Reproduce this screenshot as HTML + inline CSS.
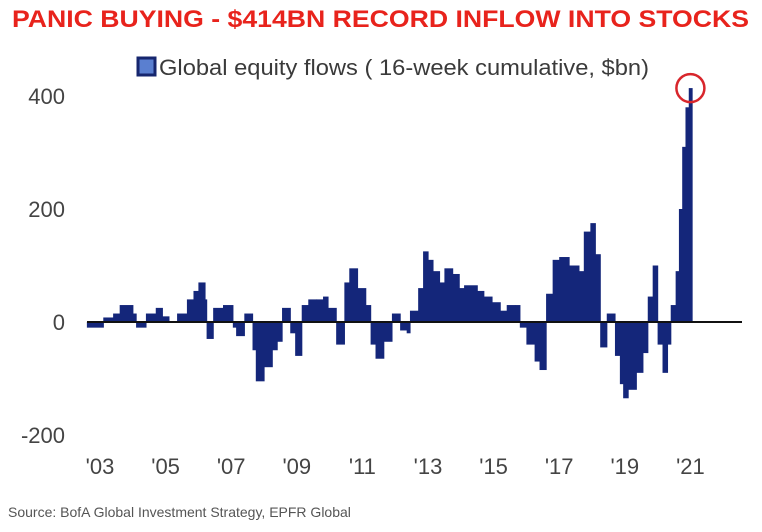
<!DOCTYPE html>
<html><head><meta charset="utf-8"><style>
html,body{margin:0;padding:0;background:#fff;}
svg{display:block;font-family:"Liberation Sans",sans-serif;}
</style></head><body>
<svg id="chart" width="762" height="532" viewBox="0 0 762 532">
  <text x="12" y="27" font-size="24" font-weight="bold" fill="#e8231c" textLength="737" lengthAdjust="spacingAndGlyphs">PANIC BUYING - $414BN RECORD INFLOW INTO STOCKS</text>
  <rect x="138" y="58" width="17" height="17" fill="#5a7fd0" stroke="#16266e" stroke-width="3"/>
  <text x="159" y="75" font-size="22" fill="#3a3a3a" textLength="490" lengthAdjust="spacingAndGlyphs">Global equity flows ( 16-week cumulative, $bn)</text>
  <g id="yticks"></g>
  <g id="xticks"></g>
  <g id="bars"></g>
  <line id="zero" x1="87" x2="742" stroke="#111" stroke-width="2"/>
  <circle id="peak" r="14" fill="none" stroke="#d8262c" stroke-width="2.5"/>
  <text x="8" y="517" font-size="14" fill="#555">Source:  BofA Global Investment Strategy, EPFR Global</text>
</svg>
<script>
const times = [2002.6,2003.1,2003.4,2003.6,2004.0,2004.1,2004.4,2004.7,2004.9,2005.1,2005.35,2005.65,2005.85,2006.0,2006.2,2006.25,2006.45,2006.75,2007.05,2007.15,2007.4,2007.65,2007.75,2008.0,2008.25,2008.4,2008.55,2008.8,2008.95,2009.15,2009.35,2009.6,2009.8,2009.95,2010.2,2010.45,2010.6,2010.85,2011.1,2011.25,2011.4,2011.65,2011.9,2012.15,2012.35,2012.45,2012.7,2012.85,2013.0,2013.15,2013.35,2013.5,2013.75,2013.95,2014.1,2014.5,2014.7,2014.95,2015.2,2015.4,2015.65,2015.8,2016.0,2016.25,2016.4,2016.6,2016.8,2017.0,2017.3,2017.6,2017.75,2017.95,2018.1,2018.25,2018.45,2018.7,2018.85,2018.95,2019.1,2019.35,2019.55,2019.7,2019.85,2020.0,2020.15,2020.3,2020.4,2020.55,2020.65,2020.75,2020.85,2020.95];
const flows = [-10,8,15,30,15,-10,15,25,10,0,15,40,55,70,40,-30,25,30,-10,-25,15,-50,-105,-80,-50,-35,25,-20,-60,30,40,40,45,25,-40,70,95,60,30,-40,-65,-35,15,-15,-20,20,60,125,110,90,70,95,85,60,65,55,45,35,20,30,30,-10,-40,-70,-85,50,110,115,100,90,160,175,120,-45,15,-60,-110,-135,-120,-90,-55,45,100,-40,-90,-40,30,90,200,310,380,414];
const endTime = 2021.05;
const yTicks = [400,200,0,-200];
const yTickLabels = ["400","200","0","-200"];
const xTicks = [2003,2005,2007,2009,2011,2013,2015,2017,2019,2021];
const xTickLabels = ["'03","'05","'07","'09","'11","'13","'15","'17","'19","'21"];

const NS="http://www.w3.org/2000/svg";
const y0=322, k=0.565;
const yScale=v=>y0-v*k;
const xScale=t=>100+(t-2003)*32.8;

const yg=document.getElementById('yticks');
yTicks.forEach((v,i)=>{
  const t=document.createElementNS(NS,'text');
  t.setAttribute('x',65);t.setAttribute('y',yScale(v)+8);
  t.setAttribute('text-anchor','end');t.setAttribute('font-size','22');t.setAttribute('fill','#444');
  t.textContent=yTickLabels[i];
  
  
  yg.appendChild(t);
});
const xg=document.getElementById('xticks');
xTicks.forEach((v,i)=>{
  const t=document.createElementNS(NS,'text');
  t.setAttribute('x',xScale(v));t.setAttribute('y',474);
  t.setAttribute('text-anchor','middle');t.setAttribute('font-size','22');t.setAttribute('fill','#444');
  t.textContent=xTickLabels[i];
  
  
  xg.appendChild(t);
});
const bg=document.getElementById('bars');
flows.forEach((v,i)=>{
  const t1=times[i], t2=(i+1<times.length)?times[i+1]:endTime;
  const x1=xScale(t1), x2=xScale(t2);
  const r=document.createElementNS(NS,'rect');
  r.setAttribute('x',x1);r.setAttribute('width',x2-x1+0.6);
  r.setAttribute('y',Math.min(yScale(v),y0));r.setAttribute('height',Math.abs(yScale(v)-y0));
  r.setAttribute('fill','#14267a');
  
  
  bg.appendChild(r);
});
const z=document.getElementById('zero');
z.setAttribute('y1',y0);z.setAttribute('y2',y0);
let mi=0;flows.forEach((v,i)=>{if(v>flows[mi])mi=i;});
const pc=document.getElementById('peak');
pc.setAttribute('cx',(xScale(times[mi])+xScale(endTime))/2);
pc.setAttribute('cy',yScale(flows[mi]));
</script>
</body></html>
